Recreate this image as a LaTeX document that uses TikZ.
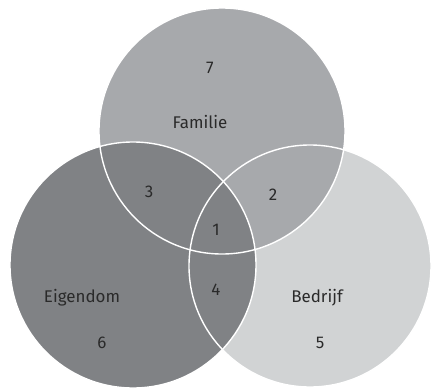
\documentclass[tikz,border=0pt]{standalone}
\usepackage{fontspec}
\setmainfont{Fira Sans}
\usepackage{xcolor}
\definecolor{grijsL}{HTML}{D1D3D4}
\definecolor{grijsM}{HTML}{A7A9AC}
\definecolor{grijsD}{HTML}{808285}
\definecolor{tekst}{HTML}{2A2A2A}
\begin{document}
\begin{tikzpicture}[x=1bp, y=-1bp,
    kring/.style={circle, inner sep=0pt, minimum size=246bp},
    rand/.style={draw=white, line width=1.4bp},
    lbl/.style={text=tekst, font=\fontsize{17}{20}\selectfont, inner sep=0pt}]
        \useasboundingbox (0,0) rectangle (432,389);

        % cirkels, lichtste eerst
        \node[kring, fill=grijsL, minimum size=242bp] (bedrijf) at (310,266) {};
        \node[kring, fill=grijsM] (familie) at (222,131) {};
        \node[kring, fill=grijsD] (eigendom) at (133,265) {};

        % witte randen
        \draw[rand] (bedrijf.center) circle[radius=121bp];
        \draw[rand] (familie.center) circle[radius=123bp];
        \draw[rand] (eigendom.center) circle[radius=123bp];

        \node[lbl] (n7) at (210,68) {7};
        \node[lbl] (tfam) at (200,122) {Familie};
        \node[lbl] (n3) at (149,192) {3};
        \node[lbl] (n2) at (273,195) {2};
        \node[lbl] (n1) at (216,230) {1};
        \node[lbl] (n4) at (216,290) {4};
        \node[lbl] (teig) at (82,298) {Eigendom};
        \node[lbl] (n6) at (102,343) {6};
        \node[lbl] (tbed) at (317,298) {Bedrijf};
        \node[lbl] (n5) at (320,343) {5};
\end{tikzpicture}
\end{document}
